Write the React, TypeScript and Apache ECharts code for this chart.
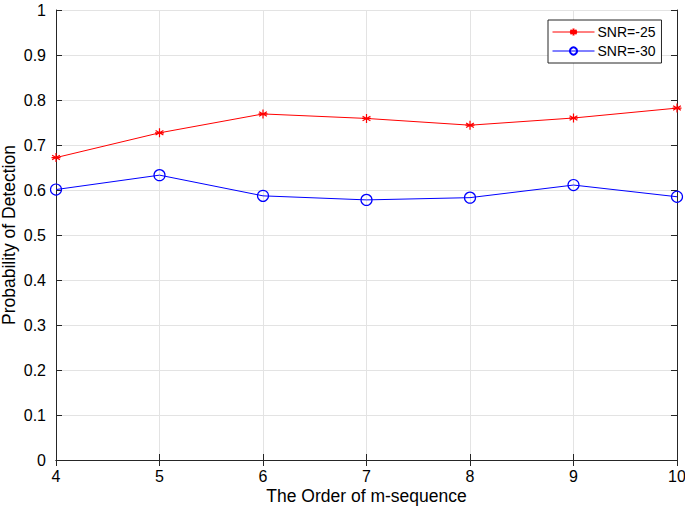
import React, { useEffect, useRef } from "react";
import * as echarts from "echarts";

const orders = [4, 5, 6, 7, 8, 9, 10];
const snr25 = [0.672, 0.727, 0.769, 0.759, 0.744, 0.76, 0.782];
const snr30 = [0.601, 0.633, 0.587, 0.578, 0.583, 0.611, 0.585];
const seriesNames = ["SNR=-25", "SNR=-30"];
const xTitle = "The Order of m-sequence";
const yTitle = "Probability of Detection";

const AX = "#262626";
const GRID = "#e3e3e3";
const FONT = "'Liberation Sans', Arial, Helvetica, sans-serif";
const STAR = "path://M0,-5L0,5M-4.33,-2.5L4.33,2.5M-4.33,2.5L4.33,-2.5M-5,0L5,0";

export default function App() {
  const ref = useRef<HTMLDivElement>(null);
  useEffect(() => {
    const chart = echarts.init(ref.current!, null, { renderer: "svg" });
    const baseAxis = {
      axisLine: { show: true, lineStyle: { color: AX, width: 1 } },
      axisTick: { show: true, inside: true, length: 6, lineStyle: { color: AX } },
    };
    chart.setOption({
      animation: false,
      backgroundColor: "#ffffff",
      textStyle: { fontFamily: FONT },
      grid: { left: 56, right: 8, top: 10, bottom: 51, containLabel: false, outerBoundsMode: "none" },
      legend: {
        data: seriesNames,
        orient: "vertical",
        left: 548,
        top: 20,
        padding: [5, 6, 5, 4],
        itemWidth: 42,
        itemHeight: 9,
        itemGap: 5,
        borderColor: AX,
        borderWidth: 1,
        backgroundColor: "#ffffff",
        lineStyle: { width: 1 },
        textStyle: { fontSize: 14, color: "#000", fontFamily: FONT, padding: [0, 0, 0, -2] },
      },
      xAxis: [
        {
          ...baseAxis,
          type: "value",
          min: 4,
          max: 10,
          interval: 1,
          name: xTitle,
          nameLocation: "middle",
          nameGap: 27,
          nameMoveOverlap: false,
          nameTextStyle: { fontSize: 17.5, color: "#000", fontFamily: FONT },
          axisLabel: { fontSize: 16, color: "#000", margin: 8, fontFamily: FONT },
          splitLine: { show: true, lineStyle: { color: GRID, width: 1 } },
        },
        {
          ...baseAxis,
          type: "value",
          position: "top",
          min: 4,
          max: 10,
          interval: 1,
          axisLabel: { show: false },
          splitLine: { show: false },
        },
      ],
      yAxis: [
        {
          ...baseAxis,
          type: "value",
          min: 0,
          max: 1,
          interval: 0.1,
          name: yTitle,
          nameLocation: "middle",
          nameGap: 38,
          nameMoveOverlap: false,
          nameTextStyle: { fontSize: 17.5, color: "#000", fontFamily: FONT },
          axisLabel: {
            fontSize: 16,
            color: "#000",
            margin: 10,
            fontFamily: FONT,
            formatter: (v: number) => String(Math.round(v * 10) / 10),
          },
          splitLine: { show: true, lineStyle: { color: GRID, width: 1 } },
        },
        {
          ...baseAxis,
          type: "value",
          position: "right",
          min: 0,
          max: 1,
          interval: 0.1,
          axisLabel: { show: false },
          splitLine: { show: false },
        },
      ],
      series: [
        {
          name: seriesNames[0],
          type: "line",
          data: orders.map((x, i) => [x, snr25[i]]),
          symbol: STAR,
          symbolSize: 9,
          showAllSymbol: true,
          lineStyle: { color: "#ff0000", width: 1 },
          itemStyle: { color: "#ff0000", borderColor: "#ff0000", borderWidth: 1.2 },
          emphasis: { disabled: true },
        },
        {
          name: seriesNames[1],
          type: "line",
          data: orders.map((x, i) => [x, snr30[i]]),
          symbol: "circle",
          symbolSize: 11,
          showAllSymbol: true,
          lineStyle: { color: "#0000ff", width: 1 },
          itemStyle: { color: "rgba(255,255,255,0)", borderColor: "#0000ff", borderWidth: 1.2 },
          emphasis: { disabled: true },
        },
      ],
    });
    return () => chart.dispose();
  }, []);
  return <div ref={ref} style={{ width: 685, height: 511, position: "absolute", left: 0, top: 0 }} />;
}
